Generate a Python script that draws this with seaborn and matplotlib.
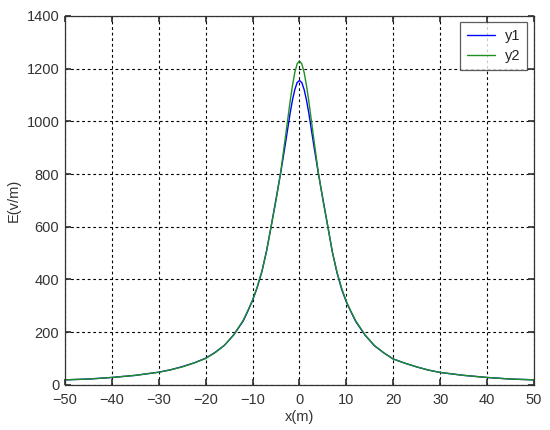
import pandas as pd
import seaborn as sns
import matplotlib
matplotlib.use("Agg")
import matplotlib.pyplot as plt

# values
x = [-50, -45, -40, -35, -30, -27.5, -25, -22.5, -20, -18, -16, -14, -12, -11, -10,
     -9, -8, -7, -6, -5, -4, -3, -2, -1.5, -1, -0.5, 0,
     0.5, 1, 1.5, 2, 3, 4, 5, 6, 7, 8, 9, 10, 11, 12, 14, 16, 18, 20,
     22.5, 25, 27.5, 30, 35, 40, 45, 50]
y1 = [19, 22, 28, 36, 48, 57, 69, 83, 101, 123, 150, 190, 242, 280, 320,
      370, 430, 510, 605, 705, 805, 915, 1030, 1080, 1120, 1147, 1155,
      1147, 1120, 1080, 1030, 915, 805, 705, 605, 505, 425, 362, 314, 276, 240, 188, 148, 121, 98,
      82, 68, 56, 47, 36, 28, 22, 19]
y2 = [19, 22, 28, 36, 48, 57, 68, 83, 100, 122, 150, 190, 245, 282, 322,
      372, 432, 508, 605, 700, 808, 940, 1075, 1135, 1185, 1218, 1229,
      1218, 1185, 1135, 1075, 940, 808, 700, 605, 505, 428, 366, 316, 278, 243, 189, 149, 121, 98,
      82, 68, 56, 47, 36, 28, 22, 19]

df = pd.DataFrame({"x": x + x, "E": y1 + y2,
                   "series": ["y1"] * len(x) + ["y2"] * len(x)})

sns.set_theme(style="white")
plt.rcParams['font.family'] = ['Liberation Sans', 'DejaVu Sans']

fig = plt.figure(figsize=(5.5, 4.3), dpi=100)
ax = fig.add_axes([0.118, 0.105, 0.853, 0.858])

sns.lineplot(data=df, x="x", y="E", hue="series", palette=["#0000ff", "#1f8f1f"],
             linewidth=1.0, ax=ax, sort=False)

ax.set_xlim(-50, 50)
ax.set_ylim(0, 1400)
ax.set_xticks(range(-50, 51, 10))
ax.set_yticks(range(0, 1401, 200))
ax.grid(True, color="black", linestyle=(0, (2.5, 2.5)), linewidth=0.8)
ax.tick_params(direction="in", length=4, labelsize=10.5, colors="#333333",
               top=True, right=True, bottom=True, left=True)
ax.tick_params(axis="x", pad=6)
ax.tick_params(axis="y", pad=4)
for s in ax.spines.values():
    s.set_color("#333333")
    s.set_linewidth(0.9)
ax.set_xlabel("x(m)", fontsize=10.5, color="#333333", labelpad=2)
ax.set_ylabel("E(v/m)", fontsize=10.5, color="#333333")

leg = ax.legend(loc="upper right", fontsize=10.5, frameon=True, fancybox=False,
                edgecolor="#333333", handlelength=1.9, handletextpad=0.7,
                borderpad=0.45, labelspacing=0.45, borderaxespad=0,
                bbox_to_anchor=(0.985, 0.983))
leg.get_frame().set_linewidth(0.9)

fig.savefig("out.png", dpi=100)
